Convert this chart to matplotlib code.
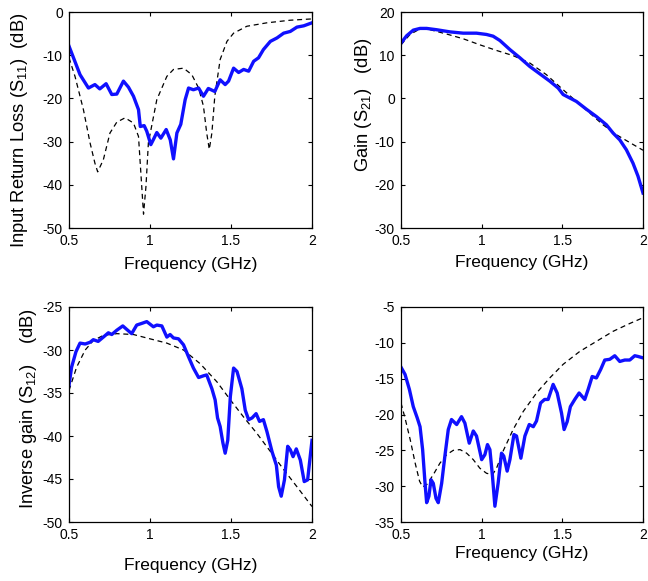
import matplotlib
matplotlib.use("Agg")
import matplotlib.pyplot as plt

plt.rcParams['font.family'] = ['Liberation Sans', 'DejaVu Sans']
plt.rcParams['mathtext.fontset'] = 'custom'
plt.rcParams['mathtext.rm'] = 'Liberation Sans'
plt.rcParams['mathtext.it'] = 'Liberation Sans:italic'
plt.rcParams['mathtext.default'] = 'regular'

# ---- Panel 1: S11 ----
s11_meas_f = [0.5, 0.568, 0.62, 0.66, 0.69, 0.729, 0.764, 0.795, 0.836, 0.867, 0.898, 0.929, 0.94, 0.964,
              0.98, 1.005, 1.02, 1.042, 1.067, 1.10, 1.125, 1.145, 1.166, 1.19, 1.217, 1.238, 1.268, 1.30,
              1.33, 1.36, 1.40, 1.433, 1.464, 1.485, 1.516, 1.547, 1.578, 1.609, 1.64, 1.67, 1.70, 1.743,
              1.784, 1.825, 1.866, 1.907, 1.949, 2.0]
s11_meas = [-7.9, -14.5, -17.6, -16.8, -17.8, -16.6, -19.1, -19.0, -16.0, -17.4, -19.5, -22.6, -26.5, -26.3,
            -27.6, -30.7, -29.6, -27.9, -29.2, -27.2, -29.6, -34.0, -28.0, -26.0, -20.3, -17.6, -18.0, -17.6,
            -19.5, -17.7, -18.4, -15.7, -16.8, -16.0, -13.0, -14.0, -13.3, -13.7, -11.4, -10.6, -8.7, -6.8,
            -6.0, -4.9, -4.5, -3.5, -3.2, -2.5]
s11_sim_f = [0.5, 0.537, 0.589, 0.63, 0.66, 0.677, 0.712, 0.753, 0.795, 0.846, 0.898, 0.929, 0.949, 0.96,
             0.975, 0.99, 1.042, 1.104, 1.145, 1.207, 1.258, 1.30, 1.33, 1.35, 1.366, 1.382, 1.40, 1.433,
             1.475, 1.516, 1.598, 1.722, 1.866, 2.0]
s11_sim = [-10.6, -14.9, -22.6, -30.3, -35.0, -37.0, -34.2, -28.0, -25.5, -24.5, -25.7, -28.8, -40.4, -46.8,
           -40.4, -30.3, -20.3, -14.9, -13.3, -13.0, -14.5, -17.6, -21.8, -28.0, -31.8, -28.0, -19.5, -11.0,
           -6.8, -4.9, -3.3, -2.5, -1.9, -1.6]

# ---- Panel 2: S21 ----
s21_meas_f = [0.5, 0.535, 0.576, 0.618, 0.659, 0.72, 0.803, 0.886, 0.968, 1.03, 1.071, 1.113, 1.175, 1.237,
              1.298, 1.36, 1.422, 1.474, 1.505, 1.546, 1.587, 1.649, 1.711, 1.773, 1.814, 1.856, 1.897,
              1.938, 1.969, 2.0]
s21_meas = [12.8, 14.5, 15.8, 16.2, 16.2, 15.9, 15.4, 15.1, 15.1, 14.8, 14.4, 13.4, 11.3, 9.4,
            7.4, 5.7, 4.0, 2.4, 0.9, 0.1, -0.7, -2.5, -4.2, -6.1, -8.0, -9.6, -11.9,
            -15.0, -18.0, -21.9]
s21_sim_f = [0.5, 0.556, 0.618, 0.68, 0.783, 0.886, 0.989, 1.092, 1.195, 1.298, 1.401, 1.505, 1.587, 1.67,
             1.752, 1.835, 1.917, 2.0]
s21_sim = [12.4, 14.8, 16.1, 15.9, 14.9, 13.8, 12.4, 11.1, 9.9, 8.2, 5.5, 2.0, -0.7, -3.4,
           -6.1, -8.4, -10.2, -12.0]

# ---- Panel 3: S12 ----
s12_meas_f = [0.5, 0.516, 0.543, 0.568, 0.6, 0.63, 0.65, 0.68, 0.712, 0.743, 0.764, 0.795, 0.832, 0.856,
              0.887, 0.918, 0.95, 0.98, 1.021, 1.042, 1.073, 1.104, 1.124, 1.145, 1.176, 1.207, 1.238,
              1.268, 1.30, 1.33, 1.35, 1.382, 1.402, 1.417, 1.433, 1.45, 1.464, 1.48, 1.496, 1.516, 1.537,
              1.567, 1.588, 1.609, 1.63, 1.655, 1.676, 1.70, 1.722, 1.753, 1.78, 1.794, 1.81, 1.83, 1.85,
              1.866, 1.883, 1.903, 1.928, 1.952, 1.973, 2.0]
s12_meas = [-34.1, -32.0, -30.2, -29.2, -29.3, -29.1, -28.8, -29.0, -28.5, -28.0, -28.2, -27.7, -27.2, -27.6,
            -28.1, -27.1, -26.9, -26.7, -27.3, -27.1, -27.2, -28.5, -28.2, -28.6, -28.7, -29.4, -30.8,
            -32.1, -33.2, -33.0, -32.9, -34.5, -35.8, -37.9, -38.9, -40.8, -42.0, -40.5, -35.4, -32.1, -32.5,
            -34.5, -37.0, -38.1, -37.9, -37.4, -38.3, -38.1, -39.5, -41.8, -43.4, -45.9, -47.0, -45.1, -41.2,
            -41.6, -42.4, -41.5, -42.8, -45.3, -45.1, -40.5]
s12_sim_f = [0.5, 0.547, 0.6, 0.65, 0.712, 0.795, 0.898, 1.0, 1.104, 1.207, 1.31, 1.413, 1.496, 1.578,
             1.66, 1.743, 1.825, 1.907, 2.0]
s12_sim = [-34.7, -32.0, -30.0, -28.9, -28.3, -28.1, -28.2, -28.7, -29.2, -30.0, -31.6, -33.7, -35.8, -37.8,
           -39.7, -41.8, -43.9, -45.9, -48.2]

# ---- Panel 4: S22 ----
s22_meas_f = [0.5, 0.525, 0.552, 0.576, 0.601, 0.618, 0.634, 0.649, 0.659, 0.673, 0.686, 0.70, 0.717, 0.731,
              0.752, 0.772, 0.793, 0.813, 0.845, 0.875, 0.896, 0.923, 0.948, 0.968, 1.0, 1.02, 1.036,
              1.051, 1.067, 1.082, 1.102, 1.123, 1.137, 1.158, 1.175, 1.2, 1.216, 1.243, 1.268, 1.295,
              1.32, 1.34, 1.365, 1.39, 1.412, 1.443, 1.468, 1.495, 1.511, 1.53, 1.55, 1.577, 1.604, 1.639,
              1.66, 1.685, 1.711, 1.738, 1.763, 1.794, 1.825, 1.856, 1.887, 1.918, 1.949, 1.969, 2.0]
s22_meas = [-13.4, -14.4, -16.5, -18.9, -20.5, -21.7, -24.9, -29.6, -32.3, -31.4, -29.1, -29.6, -31.7, -32.3,
            -29.6, -25.8, -22.1, -20.7, -21.4, -20.3, -21.2, -24.0, -22.3, -23.0, -26.3, -25.6, -24.2,
            -24.9, -28.6, -32.8, -29.6, -25.4, -25.8, -27.9, -26.3, -22.8, -23.0, -26.1, -23.0, -21.4,
            -21.7, -20.9, -18.4, -17.9, -17.9, -15.8, -17.0, -19.8, -22.1, -21.0, -18.9, -17.9, -17.0, -17.9,
            -16.5, -14.7, -14.9, -13.7, -12.4, -12.3, -11.8, -12.6, -12.4, -12.4, -11.8, -11.9, -12.1]
s22_sim_f = [0.5, 0.525, 0.557, 0.588, 0.615, 0.634, 0.659, 0.70, 0.741, 0.783, 0.824, 0.866, 0.907, 0.948,
             0.989, 1.03, 1.067, 1.092, 1.133, 1.195, 1.257, 1.34, 1.422, 1.505, 1.608, 1.711, 1.814,
             1.918, 2.0]
s22_sim = [-18.4, -20.5, -23.5, -26.8, -29.3, -30.1, -29.8, -28.4, -26.8, -25.6, -25.0, -24.9, -25.4, -26.3,
           -27.5, -28.2, -28.4, -27.5, -25.1, -22.1, -19.6, -17.0, -14.9, -13.0, -11.2, -9.8, -8.4,
           -7.3, -6.5]

xticks = [0.5, 1, 1.5, 2]
xticklabels = ['0.5', '1', '1.5', '2']
xlabel = 'Frequency (GHz)'

panels = [
    dict(pos=[69, 12, 243, 216], mf=s11_meas_f, m=s11_meas, sf=s11_sim_f, s=s11_sim,
         ylim=(-50, 0), yticks=[-50, -40, -30, -20, -10, 0],
         ylabel='Input Return Loss (S$_{11}$)  (dB)', ylc=(-0.16, 0.454), xpad=6),
    dict(pos=[401, 12, 242, 216], mf=s21_meas_f, m=s21_meas, sf=s21_sim_f, s=s21_sim,
         ylim=(-30, 20), yticks=[-30, -20, -10, 0, 10, 20],
         ylabel='Gain (S$_{21}$)   (dB)', ylc=(-0.113, 0.572), xpad=5),
    dict(pos=[69, 307, 243, 215], mf=s12_meas_f, m=s12_meas, sf=s12_sim_f, s=s12_sim,
         ylim=(-50, -25), yticks=[-50, -45, -40, -35, -30, -25],
         ylabel='Inverse gain (S$_{12}$)    (dB)', ylc=(-0.125, 0.526), xpad=11),
    dict(pos=[401, 307, 242, 215], mf=s22_meas_f, m=s22_meas, sf=s22_sim_f, s=s22_sim,
         ylim=(-35, -5), yticks=[-35, -30, -25, -20, -15, -10, -5],
         ylabel=None, ylc=None, xpad=3),
]

W, H = 648, 581
fig = plt.figure(figsize=(W / 100, H / 100), dpi=100)

for p in panels:
    l, t, w, h = p['pos']
    ax = fig.add_axes([l / W, 1 - (t + h) / H, w / W, h / H])
    ax.plot(p['sf'], p['s'], color='black', lw=0.9, linestyle=(0, (4, 3)))
    ax.plot(p['mf'], p['m'], color='#1010ff', lw=2.4, solid_joinstyle='round')
    ax.set_xlim(0.5, 2)
    ax.set_ylim(*p['ylim'])
    ax.set_xticks(xticks)
    ax.set_xticklabels(xticklabels)
    ax.set_yticks(p['yticks'])
    ax.set_yticklabels([str(v) for v in p['yticks']])
    ax.tick_params(direction='in', top=True, right=True, length=3, width=0.8,
                   labelsize=10, pad=4.5)
    for sp in ax.spines.values():
        sp.set_linewidth(0.9)
    ax.set_xlabel(xlabel, fontsize=12.5, labelpad=p['xpad'])
    if p['ylabel']:
        ax.set_ylabel(p['ylabel'], fontsize=13.2)
        ax.yaxis.set_label_coords(*p['ylc'])

fig.savefig('out.png', dpi=100)
